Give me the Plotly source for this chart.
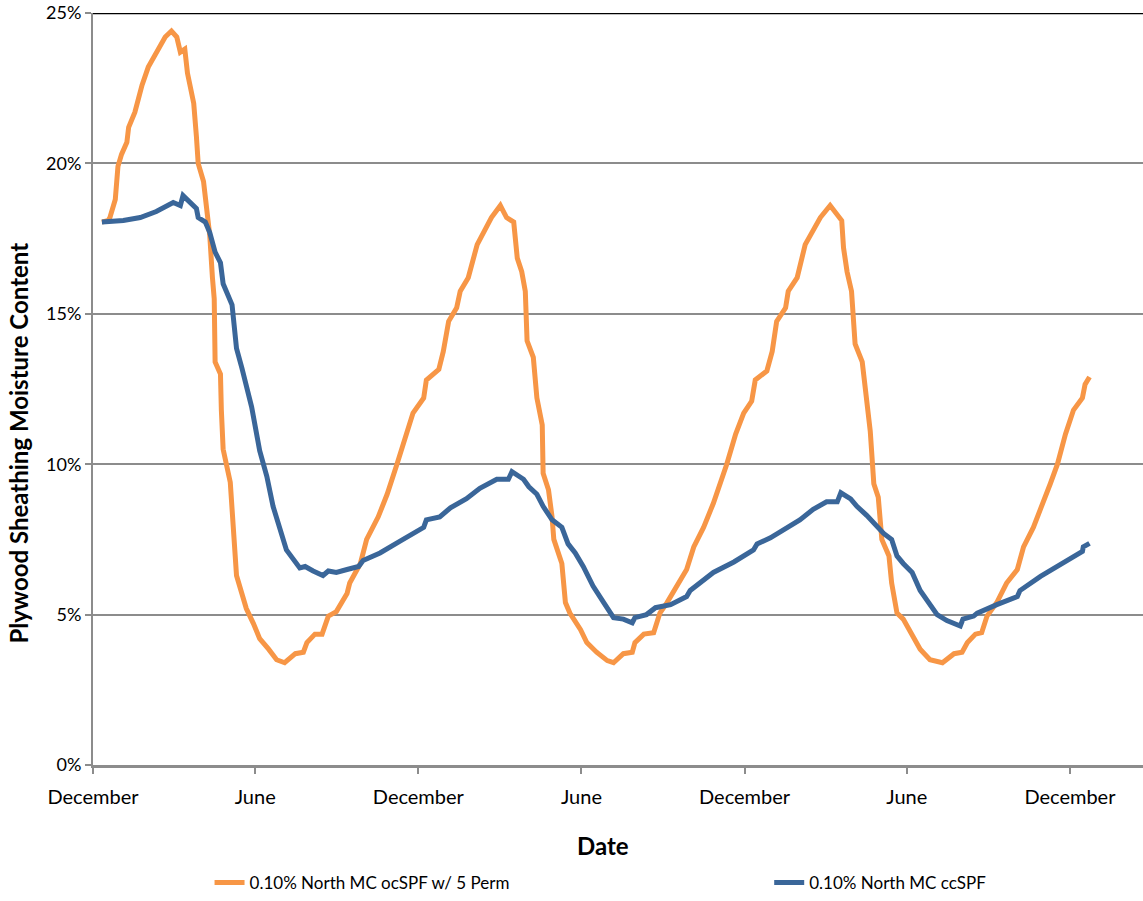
import pandas as pd
import plotly.graph_objects as go

# ---- data (days since 2010-12-01, moisture content in %) ----
start_date = "2010-12-01"

oc_days = [10, 17, 19, 25, 28, 32, 38, 40, 47, 55, 62, 73, 81, 88, 94, 98, 103, 106, 109, 113, 116, 118,
           124, 127, 131, 134, 136, 137, 143, 144, 146, 154, 157, 161, 167, 172, 180, 187, 197, 206, 215,
           227, 236, 240, 249, 257, 264, 273, 285, 288, 300, 307, 320, 330, 341, 352, 359, 371, 374, 388,
           393, 399, 408, 412, 421, 431, 438, 447, 457, 464, 472, 476, 481, 485, 487, 494, 498, 504, 505,
           511, 515, 517, 526, 530, 535, 547, 554, 565, 577, 584, 595, 605, 608, 618, 629, 636, 644, 655,
           666, 674, 685, 696, 704, 711, 721, 730, 739, 743, 756, 762, 767, 777, 780, 790, 799, 807, 816,
           827, 840, 842, 846, 851, 855, 863, 868, 872, 876, 881, 885, 893, 896, 902, 909, 919, 928, 939,
           953, 966, 975, 981, 990, 997, 1003, 1014, 1025, 1037, 1044, 1055, 1066, 1074, 1082, 1091, 1100,
           1110, 1113, 1118]
oc_mc = [18.05, 18.1, 18.2, 18.8, 19.9, 20.3, 20.7, 21.2, 21.7, 22.6, 23.2, 23.8, 24.2, 24.4, 24.2, 23.7,
         23.8, 23.0, 22.5, 22.0, 20.9, 20.0, 19.4, 18.6, 17.6, 16.2, 15.5, 13.4, 13.0, 11.8, 10.5, 9.4,
         7.9, 6.3, 5.7, 5.2, 4.7, 4.2, 3.85, 3.5, 3.4, 3.7, 3.75, 4.07, 4.35, 4.35, 4.95, 5.1, 5.7, 6.05,
         6.7, 7.5, 8.25, 9.0, 10.0, 11.1, 11.7, 12.2, 12.8, 13.15, 13.75, 14.75, 15.2, 15.75, 16.2, 17.3,
         17.7, 18.2, 18.6, 18.2, 18.05, 16.85, 16.4, 15.75, 14.1, 13.55, 12.2, 11.3, 9.7, 9.15, 8.25, 7.5,
         6.7, 5.4, 5.05, 4.5, 4.07, 3.75, 3.47, 3.4, 3.7, 3.75, 4.07, 4.35, 4.4, 5.05, 5.4, 5.95, 6.5,
         7.25, 7.9, 8.7, 9.35, 10.0, 11.0, 11.7, 12.1, 12.8, 13.1, 13.75, 14.75, 15.2, 15.75, 16.2, 17.3,
         17.7, 18.2, 18.6, 18.1, 17.2, 16.4, 15.75, 14.0, 13.4, 12.1, 11.1, 9.35, 8.9, 7.5, 6.95, 6.05,
         5.05, 4.85, 4.3, 3.85, 3.5, 3.4, 3.7, 3.75, 4.07, 4.35, 4.4, 4.95, 5.4, 6.05, 6.5, 7.25, 7.9,
         8.7, 9.35, 10.0, 11.0, 11.8, 12.2, 12.65, 12.9]

cc_days = [10, 34, 53, 71, 90, 98, 101, 109, 116, 118, 126, 131, 137, 143, 146, 156, 159, 161, 167, 178,
           187, 195, 202, 210, 217, 232, 238, 247, 258, 264, 273, 285, 298, 303, 322, 345, 371, 374, 389,
           401, 419, 434, 453, 466, 470, 483, 489, 498, 505, 515, 526, 533, 541, 550, 561, 573, 584, 595,
           605, 608, 621, 631, 648, 666, 670, 696, 719, 741, 745, 760, 779, 793, 808, 823, 835, 839, 850,
           857, 868, 878, 887, 896, 902, 909, 919, 928, 937, 947, 958, 973, 976, 988, 992, 1003, 1014,
           1037, 1040, 1063, 1089, 1110, 1111, 1118]
cc_mc = [18.05, 18.1, 18.2, 18.4, 18.7, 18.6, 18.93, 18.7, 18.5, 18.2, 18.05, 17.7, 17.05, 16.7, 16.0,
         15.3, 14.4, 13.85, 13.2, 11.9, 10.45, 9.6, 8.6, 7.8, 7.15, 6.55, 6.6, 6.45, 6.3, 6.45, 6.4, 6.5,
         6.6, 6.8, 7.05, 7.45, 7.9, 8.15, 8.25, 8.55, 8.85, 9.2, 9.5, 9.5, 9.75, 9.5, 9.25, 9.0, 8.6,
         8.15, 7.9, 7.35, 7.05, 6.6, 5.95, 5.4, 4.9, 4.85, 4.73, 4.9, 5.0, 5.23, 5.33, 5.6, 5.8, 6.4, 6.75,
         7.15, 7.35, 7.55, 7.9, 8.15, 8.5, 8.75, 8.75, 9.05, 8.85, 8.6, 8.3, 7.97, 7.7, 7.5, 6.95, 6.7,
         6.4, 5.8, 5.4, 5.0, 4.8, 4.62, 4.85, 4.95, 5.05, 5.17, 5.33, 5.6, 5.8, 6.27, 6.75, 7.1, 7.25, 7.37]

tick_dates = ["2010-12-01", "2011-06-01", "2011-12-01", "2012-06-01", "2012-12-01", "2013-06-01", "2013-12-01"]
tick_labels = ["December", "June", "December", "June", "December", "June", "December"]

series_names = ["0.10% North MC ocSPF w/ 5 Perm", "0.10% North MC ccSPF"]
series_colors = ["#F79646", "#3A6699"]
x_title = "Date"
y_title = "Plywood Sheathing Moisture Content"

base = pd.Timestamp(start_date)
oc_x = [base + pd.Timedelta(days=d) for d in oc_days]
cc_x = [base + pd.Timedelta(days=d) for d in cc_days]
oc_y = [v / 100 for v in oc_mc]
cc_y = [v / 100 for v in cc_mc]

FONT = "Lato, 'Open Sans', sans-serif"

fig = go.Figure()
fig.add_trace(go.Scatter(x=oc_x, y=oc_y, mode="lines", name=series_names[0], legend="legend",
                         line=dict(color=series_colors[0], width=5)))
fig.add_trace(go.Scatter(x=cc_x, y=cc_y, mode="lines", name=series_names[1], legend="legend2",
                         line=dict(color=series_colors[1], width=5)))

x_end = base + pd.Timedelta(days=1178)

leg_common = dict(orientation="h", xanchor="left", y=-0.157, yanchor="middle",
                  font=dict(size=17), itemwidth=30, bgcolor="rgba(0,0,0,0)")

fig.update_layout(
    width=1143, height=901,
    margin=dict(l=93, r=0, t=13, b=131),
    paper_bgcolor="white", plot_bgcolor="white",
    font=dict(family=FONT, size=17, color="black"),
    showlegend=True,
    legend=dict(x=0.111, **leg_common),
    legend2=dict(x=0.644, **leg_common),
    xaxis=dict(
        type="date", range=[base, x_end], automargin=False,
        tickvals=[pd.Timestamp(t) for t in tick_dates], ticktext=tick_labels,
        showgrid=False, zeroline=False,
        showline=True, linecolor="#8C8C8C", linewidth=3,
        ticks="outside", ticklen=6, tickwidth=2, tickcolor="#8C8C8C",
        tickfont=dict(size=20), ticklabelstandoff=6,
    ),
    yaxis=dict(
        range=[0, 0.25], tickvals=[0, 0.05, 0.10, 0.15, 0.20, 0.25], tickformat=".0%",
        automargin=False,
        showgrid=True, gridcolor="#8C8C8C", gridwidth=2, zeroline=False,
        showline=True, linecolor="#8C8C8C", linewidth=2,
        ticks="outside", ticklen=6, tickwidth=2, tickcolor="#8C8C8C",
        tickfont=dict(size=18),
    ),
)

# axis titles placed as in the reference
fig.add_annotation(text=f"<b>{x_title}</b>", xref="paper", yref="paper", x=0.486, y=-0.107,
                   xanchor="center", yanchor="middle", showarrow=False, font=dict(size=24))
fig.add_annotation(text=f"<b>{y_title}</b>", xref="paper", yref="paper", x=-0.071, y=0.428,
                   xanchor="center", yanchor="middle", textangle=-90, showarrow=False,
                   font=dict(size=24))

# black top border line at the 25% level
fig.add_shape(type="line", xref="paper", yref="y", x0=0, x1=1, y0=0.25, y1=0.25,
              line=dict(color="black", width=2.5), layer="above")

fig.write_html("out.html", config={"displayModeBar": False})

# remove the default page margin so the figure sits at the window origin
with open("out.html", "r", encoding="utf-8") as f:
    html = f.read()
html = html.replace("<body>", '<body style="margin:0;padding:0;overflow:hidden">', 1)
with open("out.html", "w", encoding="utf-8") as f:
    f.write(html)
